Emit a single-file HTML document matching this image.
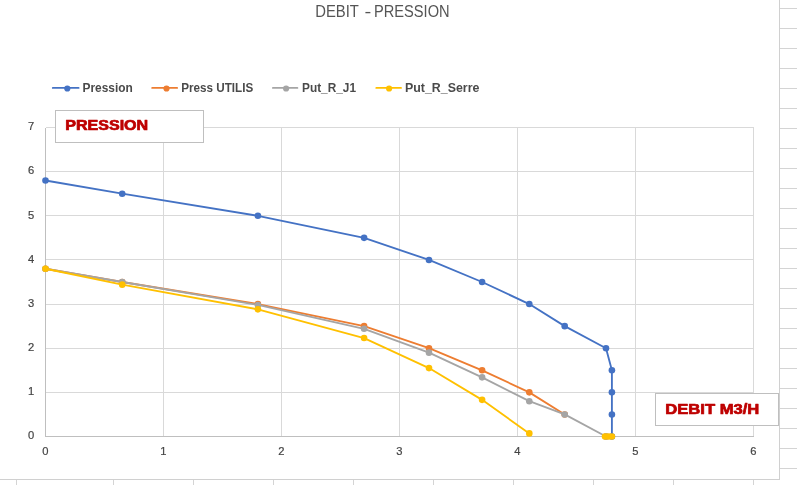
<!DOCTYPE html>
<html lang="fr"><head><meta charset="utf-8"><title>DEBIT - PRESSION</title>
<style>
html,body{margin:0;padding:0;background:#fff;}
body{width:797px;height:485px;overflow:hidden;position:relative;font-family:"Liberation Sans",sans-serif;}
svg{position:absolute;left:0;top:0;display:block;}
text{font-family:"Liberation Sans",sans-serif;}
.ax{font-size:11.2px;fill:#454545;stroke:#454545;stroke-width:0.2px;}
.lg{font-size:12.4px;font-weight:bold;fill:#4a4a4a;}
.tb{font-size:14.2px;font-weight:bold;fill:#BE0000;stroke:#BE0000;stroke-width:0.7px;stroke-linejoin:round;}
</style></head><body>
<svg width="797" height="485" viewBox="0 0 797 485">
<rect x="0" y="0" width="797" height="485" fill="#fff"/>
<g stroke="#D4D4D4" stroke-width="1" shape-rendering="crispEdges">
<line x1="780" y1="8.5" x2="797" y2="8.5"/><line x1="780" y1="28.5" x2="797" y2="28.5"/><line x1="780" y1="48.5" x2="797" y2="48.5"/><line x1="780" y1="68.5" x2="797" y2="68.5"/><line x1="780" y1="88.5" x2="797" y2="88.5"/><line x1="780" y1="108.5" x2="797" y2="108.5"/><line x1="780" y1="128.5" x2="797" y2="128.5"/><line x1="780" y1="148.5" x2="797" y2="148.5"/><line x1="780" y1="168.5" x2="797" y2="168.5"/><line x1="780" y1="188.5" x2="797" y2="188.5"/><line x1="780" y1="208.5" x2="797" y2="208.5"/><line x1="780" y1="228.5" x2="797" y2="228.5"/><line x1="780" y1="248.5" x2="797" y2="248.5"/><line x1="780" y1="268.5" x2="797" y2="268.5"/><line x1="780" y1="288.5" x2="797" y2="288.5"/><line x1="780" y1="308.5" x2="797" y2="308.5"/><line x1="780" y1="328.5" x2="797" y2="328.5"/><line x1="780" y1="348.5" x2="797" y2="348.5"/><line x1="780" y1="368.5" x2="797" y2="368.5"/><line x1="780" y1="388.5" x2="797" y2="388.5"/><line x1="780" y1="408.5" x2="797" y2="408.5"/><line x1="780" y1="428.5" x2="797" y2="428.5"/><line x1="780" y1="448.5" x2="797" y2="448.5"/><line x1="780" y1="468.5" x2="797" y2="468.5"/><line x1="16.5" y1="480" x2="16.5" y2="485"/><line x1="113.5" y1="480" x2="113.5" y2="485"/><line x1="193.5" y1="480" x2="193.5" y2="485"/><line x1="273.5" y1="480" x2="273.5" y2="485"/><line x1="353.5" y1="480" x2="353.5" y2="485"/><line x1="433.5" y1="480" x2="433.5" y2="485"/><line x1="513.5" y1="480" x2="513.5" y2="485"/><line x1="593.5" y1="480" x2="593.5" y2="485"/><line x1="673.5" y1="480" x2="673.5" y2="485"/><line x1="753.5" y1="480" x2="753.5" y2="485"/>
</g>
<path d="M0 479.5 H779.5 V0" fill="none" stroke="#D0D0D0" stroke-width="1" shape-rendering="crispEdges"/>
<g stroke="#D9D9D9" stroke-width="1" shape-rendering="crispEdges">
<line x1="45.5" y1="392.5" x2="753.5" y2="392.5"/><line x1="45.5" y1="348.5" x2="753.5" y2="348.5"/><line x1="45.5" y1="304.5" x2="753.5" y2="304.5"/><line x1="45.5" y1="259.5" x2="753.5" y2="259.5"/><line x1="45.5" y1="215.5" x2="753.5" y2="215.5"/><line x1="45.5" y1="171.5" x2="753.5" y2="171.5"/><line x1="45.5" y1="127.5" x2="753.5" y2="127.5"/><line x1="163.5" y1="127.5" x2="163.5" y2="436.5"/><line x1="281.5" y1="127.5" x2="281.5" y2="436.5"/><line x1="399.5" y1="127.5" x2="399.5" y2="436.5"/><line x1="517.5" y1="127.5" x2="517.5" y2="436.5"/><line x1="635.5" y1="127.5" x2="635.5" y2="436.5"/><line x1="753.5" y1="127.5" x2="753.5" y2="436.5"/>
</g>
<g stroke="#BFBFBF" stroke-width="1" shape-rendering="crispEdges"><line x1="45.5" y1="127.5" x2="45.5" y2="436.5"/><line x1="45.5" y1="436.5" x2="753.5" y2="436.5"/></g>
<g class="ax" text-anchor="middle">
<text x="45.3" y="455">0</text><text x="163.3" y="455">1</text><text x="281.3" y="455">2</text><text x="399.3" y="455">3</text><text x="517.3" y="455">4</text><text x="635.3" y="455">5</text><text x="753.3" y="455">6</text>
<text x="31" y="439.3">0</text><text x="31" y="395.2">1</text><text x="31" y="351.0">2</text><text x="31" y="306.9">3</text><text x="31" y="262.7">4</text><text x="31" y="218.6">5</text><text x="31" y="174.4">6</text><text x="31" y="130.3">7</text>
</g>
<text y="16.7" font-size="16.8" fill="#555"><tspan x="315.2" textLength="43.4" lengthAdjust="spacingAndGlyphs">DEBIT</tspan> <tspan x="364.6" textLength="6.8" lengthAdjust="spacingAndGlyphs">-</tspan> <tspan x="374" textLength="75.6" lengthAdjust="spacingAndGlyphs">PRESSION</tspan></text>
<line x1="52.8" y1="87.9" x2="78.6" y2="87.9" stroke="#4472C4" stroke-width="1.85" stroke-linecap="round"/><circle cx="67.3" cy="88.5" r="3.1" fill="#4472C4"/><text class="lg" x="82.5" y="91.7" textLength="50.3" lengthAdjust="spacingAndGlyphs">Pression</text>
<line x1="152.2" y1="87.9" x2="177.1" y2="87.9" stroke="#ED7D31" stroke-width="1.85" stroke-linecap="round"/><circle cx="166.5" cy="88.5" r="3.1" fill="#ED7D31"/><text class="lg" x="181.2" y="91.7" textLength="72.0" lengthAdjust="spacingAndGlyphs">Press UTILIS</text>
<line x1="272.9" y1="87.9" x2="297.4" y2="87.9" stroke="#A5A5A5" stroke-width="1.85" stroke-linecap="round"/><circle cx="286.1" cy="88.5" r="3.1" fill="#A5A5A5"/><text class="lg" x="302" y="91.7" textLength="54" lengthAdjust="spacingAndGlyphs">Put_R_J1</text>
<line x1="376.3" y1="87.9" x2="401.0" y2="87.9" stroke="#FFC000" stroke-width="1.85" stroke-linecap="round"/><circle cx="389.1" cy="88.5" r="3.1" fill="#FFC000"/><text class="lg" x="405" y="91.7" textLength="74.4" lengthAdjust="spacingAndGlyphs">Put_R_Serre</text>
<polyline fill="none" stroke="#4472C4" stroke-width="1.85" stroke-linejoin="round" stroke-linecap="round" points="45.5,180.47 122.2,193.71 257.9,215.79 364.1,237.86 429.0,259.93 482.1,282.0 529.3,304.07 564.7,326.14 606.0,348.21 611.9,370.29 611.9,392.36 611.9,414.43 611.9,436.5"/>
<circle cx="45.5" cy="180.47" r="3.3" fill="#4472C4"/><circle cx="122.2" cy="193.71" r="3.3" fill="#4472C4"/><circle cx="257.9" cy="215.79" r="3.3" fill="#4472C4"/><circle cx="364.1" cy="237.86" r="3.3" fill="#4472C4"/><circle cx="429.0" cy="259.93" r="3.3" fill="#4472C4"/><circle cx="482.1" cy="282.0" r="3.3" fill="#4472C4"/><circle cx="529.3" cy="304.07" r="3.3" fill="#4472C4"/><circle cx="564.7" cy="326.14" r="3.3" fill="#4472C4"/><circle cx="606.0" cy="348.21" r="3.3" fill="#4472C4"/><circle cx="611.9" cy="370.29" r="3.3" fill="#4472C4"/><circle cx="611.9" cy="392.36" r="3.3" fill="#4472C4"/><circle cx="611.9" cy="414.43" r="3.3" fill="#4472C4"/><circle cx="611.9" cy="436.5" r="3.3" fill="#4472C4"/>
<polyline fill="none" stroke="#ED7D31" stroke-width="1.85" stroke-linejoin="round" stroke-linecap="round" points="45.5,268.76 122.2,282.0 257.9,304.07 364.1,326.14 429.0,348.21 482.1,370.29 529.3,392.36 564.7,414.43"/>
<circle cx="45.5" cy="268.76" r="3.3" fill="#ED7D31"/><circle cx="122.2" cy="282.0" r="3.3" fill="#ED7D31"/><circle cx="257.9" cy="304.07" r="3.3" fill="#ED7D31"/><circle cx="364.1" cy="326.14" r="3.3" fill="#ED7D31"/><circle cx="429.0" cy="348.21" r="3.3" fill="#ED7D31"/><circle cx="482.1" cy="370.29" r="3.3" fill="#ED7D31"/><circle cx="529.3" cy="392.36" r="3.3" fill="#ED7D31"/><circle cx="564.7" cy="414.43" r="3.3" fill="#ED7D31"/><circle cx="606.0" cy="436.5" r="3.3" fill="#ED7D31"/>
<polyline fill="none" stroke="#A5A5A5" stroke-width="1.85" stroke-linejoin="round" stroke-linecap="round" points="45.5,268.76 122.2,282.0 257.9,304.95 364.1,328.79 429.0,352.63 482.1,377.35 529.3,401.19 564.7,414.43 606.0,436.5"/>
<circle cx="45.5" cy="268.76" r="3.3" fill="#A5A5A5"/><circle cx="122.2" cy="282.0" r="3.3" fill="#A5A5A5"/><circle cx="257.9" cy="304.95" r="3.3" fill="#A5A5A5"/><circle cx="364.1" cy="328.79" r="3.3" fill="#A5A5A5"/><circle cx="429.0" cy="352.63" r="3.3" fill="#A5A5A5"/><circle cx="482.1" cy="377.35" r="3.3" fill="#A5A5A5"/><circle cx="529.3" cy="401.19" r="3.3" fill="#A5A5A5"/><circle cx="564.7" cy="414.43" r="3.3" fill="#A5A5A5"/><circle cx="606.0" cy="436.5" r="3.3" fill="#A5A5A5"/>
<polyline fill="none" stroke="#FFC000" stroke-width="1.85" stroke-linejoin="round" stroke-linecap="round" points="45.5,268.76 122.2,284.65 257.9,309.37 364.1,338.06 429.0,368.08 482.1,399.86 529.3,433.41"/>
<circle cx="45.5" cy="268.76" r="3.3" fill="#FFC000"/><circle cx="122.2" cy="284.65" r="3.3" fill="#FFC000"/><circle cx="257.9" cy="309.37" r="3.3" fill="#FFC000"/><circle cx="364.1" cy="338.06" r="3.3" fill="#FFC000"/><circle cx="429.0" cy="368.08" r="3.3" fill="#FFC000"/><circle cx="482.1" cy="399.86" r="3.3" fill="#FFC000"/><circle cx="529.3" cy="433.41" r="3.3" fill="#FFC000"/><circle cx="605.06" cy="436.5" r="3.3" fill="#FFC000"/><circle cx="608.6" cy="436.5" r="3.3" fill="#FFC000"/><circle cx="611.9" cy="436.5" r="3.3" fill="#FFC000"/>
<rect x="55.5" y="110.5" width="148" height="32" fill="#fff" stroke="#BFBFBF" stroke-width="1" shape-rendering="crispEdges"/>
<text class="tb" x="65.2" y="130.4" textLength="83" lengthAdjust="spacingAndGlyphs">PRESSION</text>
<rect x="655.5" y="393.5" width="123" height="32" fill="#fff" stroke="#BFBFBF" stroke-width="1" shape-rendering="crispEdges"/>
<text class="tb" x="665.3" y="413.5" textLength="94" lengthAdjust="spacingAndGlyphs">DEBIT M3/H</text>
</svg>
</body></html>
